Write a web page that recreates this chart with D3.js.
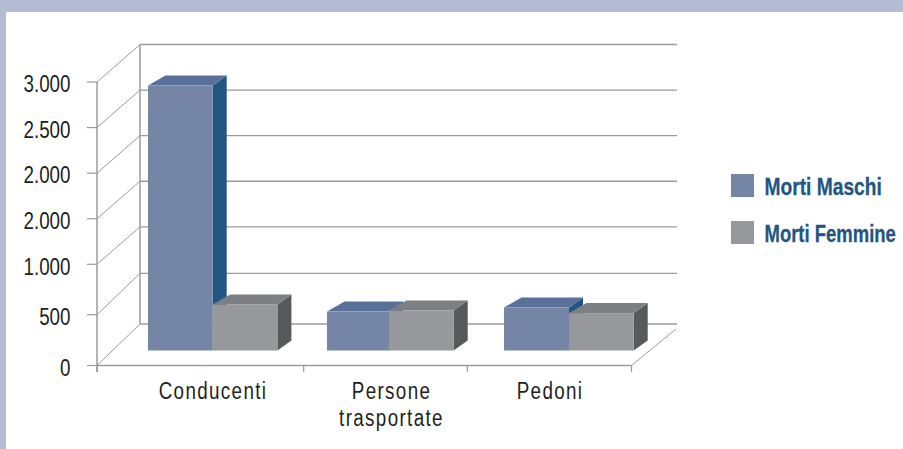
<!DOCTYPE html>
<html><head><meta charset="utf-8">
<script src="https://cdn.jsdelivr.net/npm/d3@7"></script>
<style>html,body{margin:0;padding:0;background:#fff}svg{display:block}
text{font-family:"Liberation Sans",sans-serif}</style></head>
<body><svg id="c" width="903" height="449"></svg>
<script>
const categories = ["Conducenti", "Persone trasportate", "Pedoni"];
const categoryLines = [["Conducenti"], ["Persone", "trasportate"], ["Pedoni"]];
const seriesNames = ["Morti Maschi", "Morti Femmine"];
const mortiMaschi = [2810, 380, 420];
const mortiFemmine = [450, 390, 365];
const tickValues = [0, 500, 1000, 1500, 2000, 2500, 3000];
// The reference really prints "2.000" twice.
const tickLabels = ["0", "500", "1.000", "2.000", "2.000", "2.500", "3.000"];

const faces = [
  {front:"#7485a6", top:"#597199", side:"#235583"},
  {front:"#97989b", top:"#7e7f82", side:"#58595b"}
];
const svg = d3.select("#c");
const grid = "#9b9b9d";

// The source chart's 3D box is not evenly spaced, so each plane has a piecewise scale
const yFront = d3.scaleLinear().domain([0,500,1000,3000]).range([365.5,314.7,264.3,82]);
const yBack  = d3.scaleLinear().domain([0,500,1000,3000]).range([324,273.4,226.8,44.5]);
const yBar   = d3.scaleLinear().domain([0,500,3000]).range([350.5,299.3,68]);
const xTick  = d3.scaleLinear().domain([0,1,2,3]).range([97,303.7,467.3,631.5]);
const xMale   = d3.scaleOrdinal().domain(categories).range([148,327,504]);
const xFemale = d3.scaleOrdinal().domain(categories).range([212.7,389,569]);
const xLabel  = d3.scaleOrdinal().domain(categories).range([213,391.5,550]);
const xFront=97, xBack=140, xEnd=677, femaleW=64.7, dxR=14, dxL=17.5, dy=10;

svg.append("rect").attr("width",903).attr("height",12).attr("fill","#b3bcd3");
svg.append("rect").attr("width",6).attr("height",449).attr("fill","#b3bcd3");

const line=(x1,y1,x2,y2,w=1.2)=>svg.append("line").attr("x1",x1).attr("y1",y1).attr("x2",x2).attr("y2",y2)
  .attr("stroke",grid).attr("stroke-width",w);

// condensed text: Liberation Sans squeezed horizontally, anchored at x
const label=(x,y,t,anchor,ls)=>svg.append("text")
  .attr("transform",`translate(${x},${y}) scale(0.8,1)`)
  .attr("text-anchor",anchor).attr("font-size",23.5).attr("letter-spacing",ls)
  .attr("fill","#231f20").text(t);

tickValues.forEach((v,i)=>{
  line(xBack,yBack(v),xEnd,yBack(v),1.3);
  line(xFront,yFront(v),xBack,yBack(v),1);
  line(87,yFront(v),xFront,yFront(v),1.2);
  label(70.5,yFront(v)+10.3,tickLabels[i],"end",0);
});
line(xBack,yBack(3000),xBack,yBack(0),1.5);
line(xFront,yFront(3000),xFront,372,1.5);
line(xFront,yFront(0),xTick(3),yFront(0),1.6);
line(xTick(3),yFront(0),676,329,1);
[0,1,2,3].forEach(i=>line(xTick(i),yFront(0),xTick(i),372,1.2));

const drawSeries=(vals,s,x0,w)=>{
  const g=svg.append("g").selectAll("g").data(categories).join("g");
  const val=c=>vals[categories.indexOf(c)];
  g.append("polygon").attr("fill",faces[s].side).attr("points",c=>{
    const x=x0(c)+w(c),t=yBar(val(c)),b=yBar(0);
    return [[x,t],[x+dxR,t-dy],[x+dxR,b-dy],[x,b]].join(" ");});
  g.append("polygon").attr("fill",faces[s].top).attr("points",c=>{
    const x=x0(c),t=yBar(val(c));
    return [[x,t],[x+dxL,t-dy],[x+w(c)+dxR,t-dy],[x+w(c),t]].join(" ");});
  g.append("rect").attr("fill",faces[s].front).attr("x",x0).attr("width",w)
    .attr("y",c=>yBar(val(c))).attr("height",c=>yBar(0)-yBar(val(c)));
};
drawSeries(mortiMaschi,0,xMale,c=>xFemale(c)-xMale(c));
drawSeries(mortiFemmine,1,xFemale,()=>femaleW);

categories.forEach((c,i)=>{
  categoryLines[i].forEach((t,j)=>label(xLabel(c),399+j*26.5,t,"middle",1.7));
});

const legendSqueeze=[0.8,0.77];
seriesNames.forEach((n,i)=>{
  const y=174+i*47;
  svg.append("rect").attr("x",731).attr("y",y).attr("width",23).attr("height",23).attr("fill",faces[i].front);
  svg.append("text").attr("transform",`translate(764.5,${y+21}) scale(${legendSqueeze[i]},1)`)
    .attr("font-size",24).attr("font-weight","bold")
    .attr("stroke","#235583").attr("stroke-width",0.3)
    .attr("fill","#235583").text(n);
});
</script></body></html>
